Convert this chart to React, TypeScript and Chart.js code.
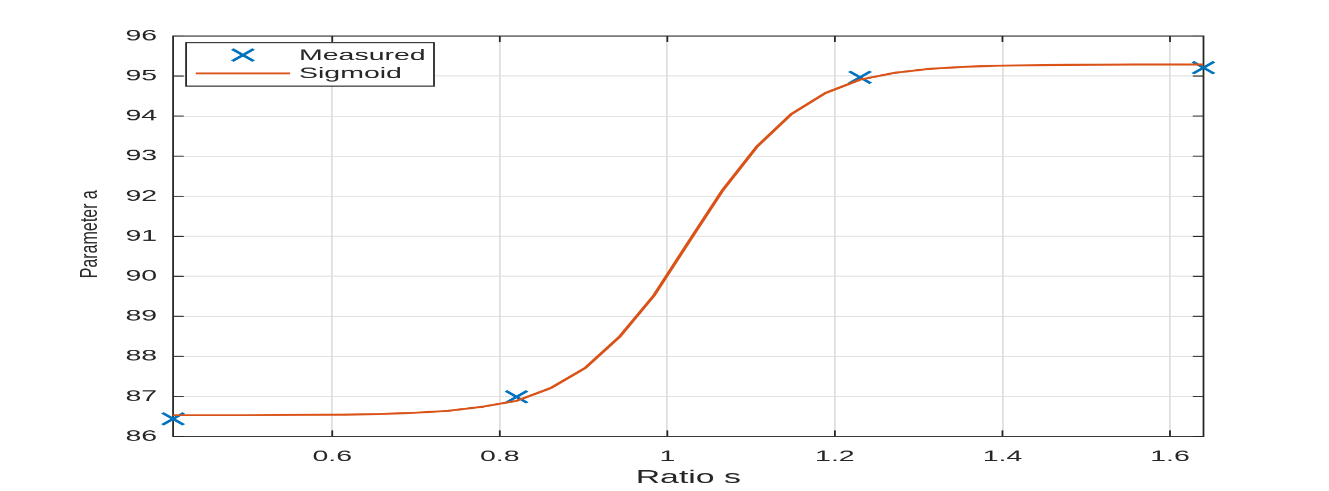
import React, { useEffect, useRef } from 'react';
import { Chart, registerables } from 'chart.js';

Chart.register(...registerables);

// ---- data ----
const measuredS = [0.41, 0.82, 1.23, 1.64];
const measuredA = [86.44, 86.99, 94.97, 95.21];

const sigmoidS = [
  0.410, 0.451, 0.492, 0.533, 0.574, 0.615, 0.656, 0.697, 0.738, 0.779,
  0.820, 0.861, 0.902, 0.943, 0.984, 1.025, 1.066, 1.107, 1.148, 1.189,
  1.230, 1.271, 1.312, 1.353, 1.394, 1.435, 1.476, 1.517, 1.558, 1.599, 1.640,
];
const sigmoidA = [
  86.53, 86.53, 86.53, 86.535, 86.54, 86.545, 86.56, 86.59, 86.64, 86.74,
  86.89, 87.21, 87.71, 88.49, 89.52, 90.84, 92.15, 93.24, 94.05, 94.58,
  94.91, 95.08, 95.18, 95.23, 95.26, 95.27, 95.28, 95.285, 95.29, 95.29, 95.29,
];

const xTickValues = [0.6, 0.8, 1.0, 1.2, 1.4, 1.6];
const xTickLabels = ['0.6', '0.8', '1', '1.2', '1.4', '1.6'];
const yTickValues = [86, 87, 88, 89, 90, 91, 92, 93, 94, 95, 96];
const yTickLabels = ['86', '87', '88', '89', '90', '91', '92', '93', '94', '95', '96'];

const X_MIN = 0.41;
const X_MAX = 1.64;
const Y_MIN = 86;
const Y_MAX = 96;

const xTitle = 'Ratio s';
const yTitle = 'Parameter a';
const measuredLabel = 'Measured';
const sigmoidLabel = 'Sigmoid';

// ---- style ----
const W = 747;
const H = 491;
const OUT_W = 1329;
const RATIO = (OUT_W + 0.5) / W;
const FONT = '"Liberation Sans", Arial, Helvetica, sans-serif';
const TXT = '#262626';
const AXIS = '#262626';
const GRID = '#dfdfdf';
const BLUE = '#0072BD';
const ORANGE = '#D95319';
const TICK_LEN = 6;
const MARK_R = 8.5;
const MARK_W = 2.1;

const matlabPlugin = {
  id: 'matlabFrame',
  beforeDatasetsDraw(chart: any) {
    const { ctx, chartArea: a, scales } = chart;
    const x = scales.x;
    const y = scales.y;
    ctx.save();
    ctx.strokeStyle = AXIS;
    ctx.lineWidth = 1;
    ctx.beginPath();
    for (const v of xTickValues) {
      const px = x.getPixelForValue(v);
      ctx.moveTo(px, a.bottom);
      ctx.lineTo(px, a.bottom - TICK_LEN);
      ctx.moveTo(px, a.top);
      ctx.lineTo(px, a.top + TICK_LEN);
    }
    for (const v of yTickValues) {
      const py = y.getPixelForValue(v);
      ctx.moveTo(a.left, py);
      ctx.lineTo(a.left + TICK_LEN, py);
      ctx.moveTo(a.right, py);
      ctx.lineTo(a.right - TICK_LEN, py);
    }
    ctx.stroke();
    ctx.strokeRect(a.left, a.top, a.right - a.left, a.bottom - a.top);
    ctx.restore();
  },
  afterDatasetsDraw(chart: any) {
    const { ctx, chartArea: a } = chart;
    ctx.save();
    // legend box
    const bx = a.left + 7.3;
    const by = a.top + 6.7;
    const bw = 139.3;
    const bh = 43.3;
    ctx.fillStyle = '#ffffff';
    ctx.fillRect(bx, by, bw, bh);
    ctx.strokeStyle = AXIS;
    ctx.lineWidth = 1;
    ctx.strokeRect(bx, by, bw, bh);

    const row1 = a.top + 19;
    const row2 = a.top + 37.3;
    const sx0 = a.left + 12.75;
    const sx1 = a.left + 65.75;
    const mx = (sx0 + sx1) / 2;

    // measured marker
    const r = MARK_R * Math.SQRT1_2;
    ctx.strokeStyle = BLUE;
    ctx.lineWidth = MARK_W;
    ctx.beginPath();
    ctx.moveTo(mx - r, row1 - r);
    ctx.lineTo(mx + r, row1 + r);
    ctx.moveTo(mx - r, row1 + r);
    ctx.lineTo(mx + r, row1 - r);
    ctx.stroke();

    // sigmoid line
    ctx.strokeStyle = ORANGE;
    ctx.lineWidth = 2;
    ctx.beginPath();
    ctx.moveTo(sx0, row2);
    ctx.lineTo(sx1, row2);
    ctx.stroke();

    ctx.fillStyle = TXT;
    ctx.font = `16px ${FONT}`;
    ctx.textAlign = 'left';
    ctx.textBaseline = 'middle';
    ctx.fillText(measuredLabel, a.left + 70.75, row1 + 0.5);
    ctx.fillText(sigmoidLabel, a.left + 70.75, row2 + 0.5);

    // y title (condensed horizontally)
    ctx.translate(50.9, (a.top + a.bottom) / 2 - 2);
    ctx.scale(0.85, 1);
    ctx.rotate(-Math.PI / 2);
    ctx.textAlign = 'center';
    ctx.textBaseline = 'middle';
    ctx.font = `16px ${FONT}`;
    ctx.fillText(yTitle, 0, 0);
    ctx.restore();
  },
};

export default function App() {
  const ref = useRef<HTMLCanvasElement | null>(null);

  useEffect(() => {
    const canvas = ref.current;
    if (!canvas) return;
    const chart = new Chart(canvas, {
      type: 'scatter',
      data: {
        datasets: [
          {
            type: 'line',
            label: sigmoidLabel,
            data: sigmoidS.map((s, i) => ({ x: s, y: sigmoidA[i] })),
            borderColor: ORANGE,
            backgroundColor: ORANGE,
            borderWidth: 2,
            pointRadius: 0,
            tension: 0,
            fill: false,
            order: 1,
          } as any,
          {
            type: 'scatter',
            label: measuredLabel,
            data: measuredS.map((s, i) => ({ x: s, y: measuredA[i] })),
            pointStyle: 'crossRot',
            pointRadius: MARK_R,
            pointBorderWidth: MARK_W,
            borderColor: BLUE,
            backgroundColor: BLUE,
            showLine: false,
            clip: false,
            order: 2,
          } as any,
        ],
      },
      options: {
        animation: false,
        responsive: false,
        devicePixelRatio: RATIO,
        layout: { padding: { top: 36, right: 70.8, left: 0, bottom: 0 } },
        plugins: {
          legend: { display: false },
          tooltip: { enabled: false },
        },
        scales: {
          x: {
            type: 'linear',
            min: X_MIN,
            max: X_MAX,
            afterBuildTicks: (s: any) => {
              s.ticks = xTickValues.map((v) => ({ value: v }));
            },
            afterFit: (s: any) => {
              s.height = 55;
            },
            border: { display: false },
            grid: { color: GRID, lineWidth: 1, drawTicks: false },
            ticks: {
              padding: 10.5,
              color: TXT,
              autoSkip: false,
              maxRotation: 0,
              font: { family: FONT, size: 16 },
              callback: (_v: any, i: number) => xTickLabels[i],
            },
            title: {
              display: true,
              text: xTitle,
              color: TXT,
              font: { family: FONT, size: 19 },
              padding: { top: 0, bottom: 2 },
            },
          },
          y: {
            type: 'linear',
            min: Y_MIN,
            max: Y_MAX,
            afterBuildTicks: (s: any) => {
              s.ticks = yTickValues.map((v) => ({ value: v }));
            },
            afterFit: (s: any) => {
              s.width = 97.25;
            },
            border: { display: false },
            grid: { color: GRID, lineWidth: 1, drawTicks: false },
            ticks: {
              padding: 9,
              color: TXT,
              autoSkip: false,
              font: { family: FONT, size: 16 },
              callback: (_v: any, i: number) => yTickLabels[i],
            },
          },
        },
      },
      plugins: [matlabPlugin],
    });
    return () => chart.destroy();
  }, []);

  return (
    <div
      style={{
        position: 'fixed',
        left: 0,
        top: 0,
        width: `${OUT_W}px`,
        height: `${H}px`,
        background: '#ffffff',
      }}
    >
      <canvas
        ref={ref}
        width={W}
        height={H}
        style={{ display: 'block', width: `${OUT_W}px`, height: `${H}px` }}
      />
    </div>
  );
}
